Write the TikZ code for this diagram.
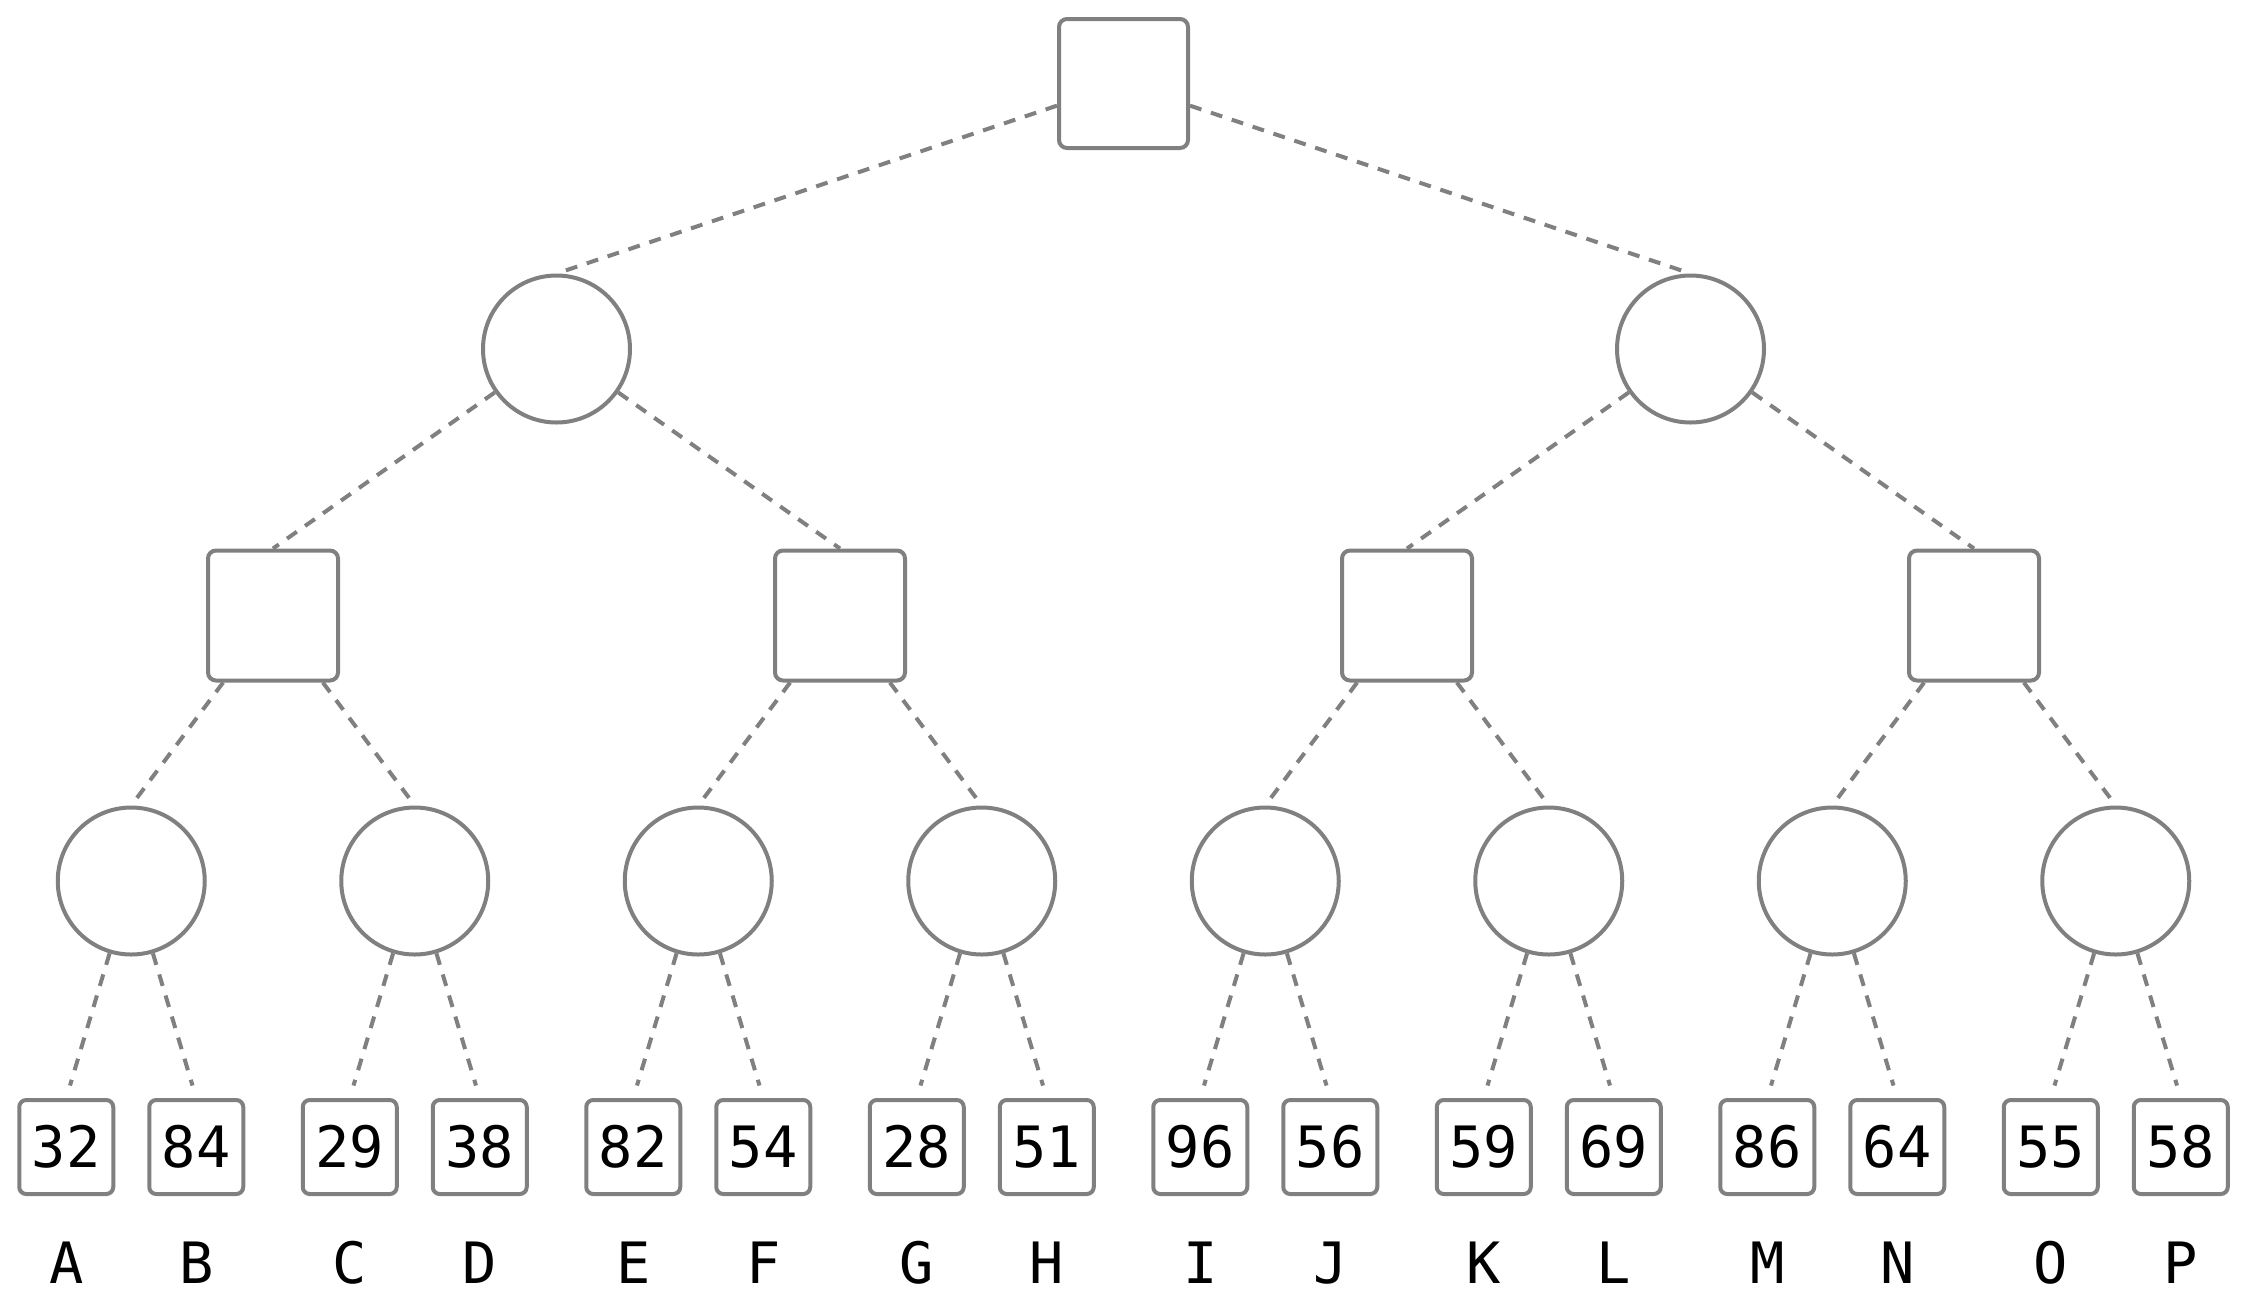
\documentclass[tikz,border=0pt]{standalone}
\usepackage{fontspec}
\newfontfamily\monofnt{DejaVu Sans Mono}
\definecolor{linegray}{RGB}{128,128,128}
\tikzset{
  edge/.style={draw=linegray, line width=4pt, dash pattern=on 12pt off 10pt},
  sqnode/.style={draw=linegray, line width=4pt, fill=white, rounded corners=8pt, minimum size=129pt, inner sep=0pt},
  circnode/.style={draw=linegray, line width=4pt, fill=white, circle, minimum size=147pt, inner sep=0pt},
  leafnode/.style={draw=linegray, line width=4pt, fill=white, rounded corners=7pt, minimum size=94pt, inner sep=0pt, font=\monofnt\fontsize{57}{60}\selectfont},
  lbl/.style={inner sep=0pt, font=\monofnt\fontsize{57}{60}\selectfont}
}
\begin{document}
\begin{tikzpicture}[x=1pt,y=-1pt]
\useasboundingbox (0,0) rectangle (2247,1302);
% nodes
\node[sqnode] (root) at (1123.5,83.5) {};
\node[circnode] (m0) at (556.5,349) {};
\node[circnode] (m1) at (1690.5,349) {};
\foreach \i in {0,...,3}
  \node[sqnode, minimum size=130pt] (b\i) at ({273+567*\i},615.5) {};
\foreach \i in {0,...,7}
  \node[circnode] (c\i) at ({131.25+283.5*\i},881) {};
\foreach \j/\v/\l in {0/32/A,1/84/B,2/29/C,3/38/D,4/82/E,5/54/F,6/28/G,7/51/H,8/96/I,9/56/J,10/59/K,11/69/L,12/86/M,13/64/N,14/55/O,15/58/P}{
  \pgfmathsetmacro{\xx}{131.25+283.5*floor(\j/2)+(2*mod(\j,2)-1)*65}
  \node[leafnode] (v\j) at (\xx,1147) {\v};
  \node[lbl, anchor=base] (t\j) at (\xx,1283) {\l};
}
% edges
\draw[edge] (root) -- (m0.north);
\draw[edge] (root) -- (m1.north);
\draw[edge] (m0) -- (b0.north);
\draw[edge] (m0) -- (b1.north);
\draw[edge] (m1) -- (b2.north);
\draw[edge] (m1) -- (b3.north);
\foreach \i in {0,...,3}{
  \pgfmathtruncatemacro{\ca}{2*\i}
  \pgfmathtruncatemacro{\cb}{2*\i+1}
  \draw[edge] (b\i) -- (c\ca.north);
  \draw[edge] (b\i) -- (c\cb.north);
}
\foreach \i in {0,...,7}{
  \pgfmathtruncatemacro{\la}{2*\i}
  \pgfmathtruncatemacro{\lb}{2*\i+1}
  \draw[edge, shorten >=13pt] (c\i) -- (v\la.north);
  \draw[edge, shorten >=13pt] (c\i) -- (v\lb.north);
}
\end{tikzpicture}
\end{document}
